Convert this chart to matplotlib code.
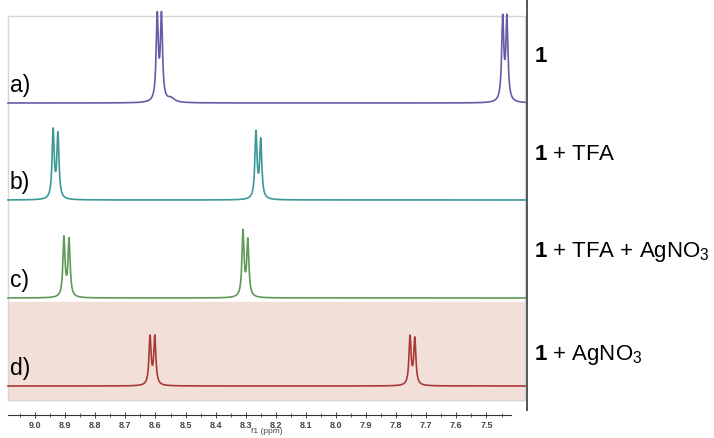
"""
Stacked 1H NMR spectra of 1 with TFA / AgNO3 additions.
"""

import numpy as np
import matplotlib
matplotlib.use('Agg')
import matplotlib.pyplot as plt
from matplotlib.lines import Line2D
from matplotlib.ticker import FixedLocator, FormatStrFormatter

plt.rcParams['font.family'] = ['Liberation Sans', 'DejaVu Sans']
plt.rcParams['mathtext.fontset'] = 'custom'
plt.rcParams['mathtext.rm'] = 'Liberation Sans'
plt.rcParams['mathtext.bf'] = 'Liberation Sans:bold'

# peak lists (ppm, height in px above baseline)
PANELS = ['a)', 'b)', 'c)', 'd)']
SAMPLES = [r'$\mathbf{1}$',
           r'$\mathbf{1}$ + TFA',
           r'$\mathbf{1}$ + TFA + AgNO$_3$',
           r'$\mathbf{1}$ + AgNO$_3$']
COLORS = ['#6a5aa6', '#3b9896', '#5f9a58', '#a83a38']
BASELINES = [312, 215, 117, 29]

PEAKS_A = [8.594, 8.580, 7.446, 7.432]
HEIGHTS_A = [84, 84, 82, 82]
PEAKS_B = [8.940, 8.924, 8.266, 8.250]
HEIGHTS_B = [68, 64, 66, 58]
PEAKS_C = [8.904, 8.887, 8.309, 8.293]
HEIGHTS_C = [59, 57, 65, 56]
PEAKS_D = [8.618, 8.602, 7.754, 7.738]
HEIGHTS_D = [48, 48, 48, 46]
# small shoulder in a)
SHOULDER_A = [8.548]
SHOULDER_H = [4]

PEAKS = [PEAKS_A, PEAKS_B, PEAKS_C, PEAKS_D]
HEIGHTS = [HEIGHTS_A, HEIGHTS_B, HEIGHTS_C, HEIGHTS_D]

TICKS = [9.0, 8.9, 8.8, 8.7, 8.6, 8.5, 8.4, 8.3, 8.2, 8.1, 8.0, 7.9, 7.8,
         7.7, 7.6, 7.5]

XLEFT, XRIGHT = 9.09, 7.372
W, H = 714, 438


def fx(px):
    return px / W


def fy(py):
    return 1 - py / H


def lorentz(x, x0, h, w):
    return h * w**2 / ((x - x0)**2 + w**2)


fig = plt.figure(figsize=(W / 100, H / 100), dpi=100)
ax = fig.add_axes([fx(8), fy(415), fx(525) - fx(8), fy(0) - fy(415)])
ax.set_xlim(XLEFT, XRIGHT)
ax.set_ylim(0, 415)

# panel box + shaded d)
ax.axhspan(15, 113, color='#f2e0d8', zorder=0)
ax.plot([XLEFT, XRIGHT, XRIGHT, XLEFT, XLEFT], [15, 15, 399, 399, 15],
        color='#d6d6d6', lw=1, zorder=1, clip_on=False)

ppm = np.linspace(XRIGHT, XLEFT, 6000)
for i in range(4):
    y = np.zeros_like(ppm) + BASELINES[i]
    for x0, h in zip(PEAKS[i], HEIGHTS[i]):
        y += lorentz(ppm, x0, h, 0.0042)
    if i == 0:
        for x0, h in zip(SHOULDER_A, SHOULDER_H):
            y += lorentz(ppm, x0, h, 0.014)
    ax.plot(ppm, y, color=COLORS[i], lw=1.2, zorder=3, clip_on=False)
    ax.text(XLEFT - 0.005, BASELINES[i] + 6, PANELS[i], fontsize=16.5,
            ha='left', va='bottom', zorder=4)
    fig.text(fx(534), fy([57, 155, 252, 355][i]), SAMPLES[i], fontsize=16,
             ha='left', va='center')

for s in ['top', 'right', 'left']:
    ax.spines[s].set_visible(False)
ax.spines['bottom'].set_bounds(XLEFT, 7.42)
ax.spines['bottom'].set_color('#333333')
ax.spines['bottom'].set_linewidth(0.8)
ax.set_yticks([])
ax.xaxis.set_major_locator(FixedLocator(TICKS))
ax.xaxis.set_minor_locator(FixedLocator([t + 0.05 for t in TICKS]
                                        + [7.45]))
ax.xaxis.set_major_formatter(FormatStrFormatter('%.1f'))
ax.tick_params(axis='x', which='major', direction='inout', length=4,
               width=0.7, labelsize=6.5, pad=2, colors='#444444')
ax.tick_params(axis='x', which='minor', direction='inout', length=3,
               width=0.6, colors='#444444')
for lab in ax.get_xticklabels():
    lab.set_fontweight('bold')
ax.set_xlabel('f1 (ppm)', fontsize=6, labelpad=-1, color='#444444')
ax.patch.set_alpha(0)

fig.add_artist(Line2D([fx(527), fx(527)], [fy(0), fy(410)],
                      color='#555555', lw=1.4))

plt.savefig('out.png', dpi=100)
plt.close()
